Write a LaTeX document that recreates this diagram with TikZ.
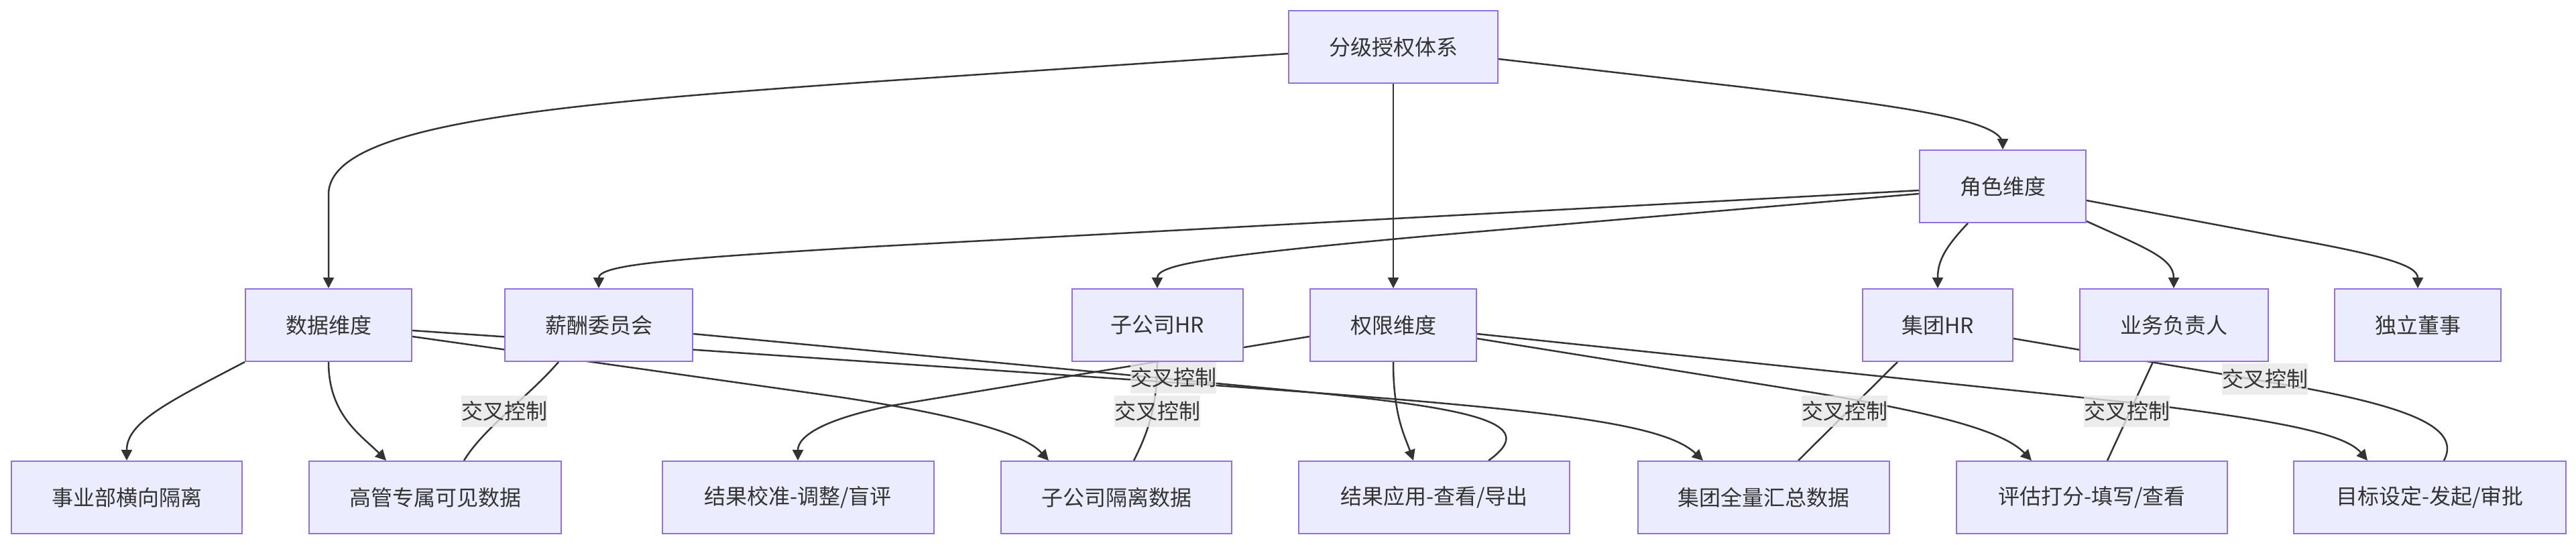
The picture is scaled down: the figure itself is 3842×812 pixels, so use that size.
\documentclass[tikz,border=0pt]{standalone}
\usepackage{fontspec}
\setmainfont{Noto Sans CJK SC}
\usetikzlibrary{arrows.meta,backgrounds}
\definecolor{nodefill}{HTML}{ECECFF}
\definecolor{nodeborder}{HTML}{9370DB}
\definecolor{edgecol}{HTML}{333333}
\definecolor{lblfill}{HTML}{E8E8E8}
\begin{document}
\begin{tikzpicture}[x=1pt,y=-1pt,
  box/.style={draw=nodeborder, line width=2pt, fill=nodefill, minimum height=108pt, inner sep=0pt, text=edgecol, font=\fontsize{32pt}{38pt}\selectfont},
  lbl/.style={fill=lblfill, fill opacity=0.8, text opacity=1, text=edgecol, inner sep=0pt, minimum height=47pt, font=\fontsize{32pt}{38pt}\selectfont},
  link/.style={draw=edgecol, line width=2.5pt},
  arr/.style={link, -{Triangle[length=16pt,width=16pt]}},
]
\useasboundingbox (0,0) rectangle (3842,812);
% nodes
\node[box, minimum width=312pt] (A) at (2078,70) {分级授权体系};
\node[box, minimum width=248pt] (B) at (490,485) {数据维度};
\node[box, minimum width=280pt] (D4) at (893,485) {薪酬委员会};
\node[box, minimum width=255pt] (D2) at (1726,485) {子公司HR};
\node[box, minimum width=248pt] (C) at (2078,485) {权限维度};
\node[box, minimum width=248pt] (D) at (2987,278) {角色维度};
\node[box, minimum width=224pt] (D1) at (2890,485) {集团HR};
\node[box, minimum width=281pt] (D3) at (3242,485) {业务负责人};
\node[box, minimum width=248pt] (D5) at (3606,485) {独立董事};
\node[box, minimum width=344pt] (B1) at (189,742) {事业部横向隔离};
\node[box, minimum width=376pt] (B2) at (649,742) {高管专属可见数据};
\node[box, minimum width=405pt] (C3) at (1190,742) {结果校准-调整/盲评};
\node[box, minimum width=344pt] (B3) at (1665,742) {子公司隔离数据};
\node[box, minimum width=404pt] (C4) at (2139,742) {结果应用-查看/导出};
\node[box, minimum width=375pt] (B4) at (2630,742) {集团全量汇总数据};
\node[box, minimum width=404pt] (C2) at (3120,742) {评估打分-填写/查看};
\node[box, minimum width=406pt] (C1) at (3624,742) {目标设定-发起/审批};
% labels
\node[lbl] (l1) at (752,613) {交叉控制};
\node[lbl] (l2) at (1750,563) {交叉控制};
\node[lbl] (l3) at (1726,613) {交叉控制};
\node[lbl] (l4) at (2751,613) {交叉控制};
\node[lbl] (l5) at (3172,613) {交叉控制};
\node[lbl] (l6) at (3378,565) {交叉控制};
\begin{pgfonlayer}{background}
\fill[white] (0,0) rectangle (3842,812);
% tree edges
\draw[arr] ([yshift=-10pt]A.west) -- (1300,122) .. controls (820,156) and (490,185) .. (490,290) -- (B.north);
\draw[arr] (A.south) -- (C.north);
\draw[arr] ([yshift=-18pt]A.east) -- (2600,130) .. controls (2850,160) and (2987,180) .. (2987,215) -- (D.north);
\draw[arr] ([yshift=-6pt]D.west) -- (1300,368) .. controls (1000,386) and (893,395) .. (D4.north);
\draw[arr] ([yshift=-11pt]D.west) -- (2130,352) .. controls (1800,382) and (1726,395) .. (D2.north);
\draw[arr] ([xshift=-52pt]D.south) .. controls (2900,370) and (2890,390) .. (D1.north);
\draw[arr] ([yshift=3pt]D.south east) .. controls (3200,370) and (3242,385) .. (D3.north);
\draw[arr] ([yshift=-21pt]D.east) -- (3400,353) .. controls (3550,380) and (3606,395) .. (D5.north);
\draw[arr] (B.south west) .. controls (250,600) and (189,630) .. (B1.north);
\draw[arr] (B.south) .. controls (490,620) and (540,650) .. ([xshift=-73pt]B2.north);
\draw[arr] ([yshift=-17pt]B.east) -- (1250,592) .. controls (1450,622) and (1530,650) .. ([xshift=-101pt]B3.north);
\draw[arr] ([yshift=-8pt]B.east) -- (1814,575) .. controls (2300,610) and (2480,630) .. ([xshift=-90pt]B4.north);
\draw[arr] ([yshift=-17pt]C.west) -- (1330,605) .. controls (1230,625) and (1190,650) .. (C3.north);
\draw[arr] (C.south) .. controls (2078,620) and (2095,650) .. ([xshift=-31pt]C4.north);
\draw[arr] ([yshift=-20pt]C.east) -- (2700,585) .. controls (2900,618) and (2990,645) .. ([xshift=-90pt]C2.north);
\draw[arr] ([yshift=-13pt]C.east) -- (3200,603) .. controls (3420,630) and (3500,650) .. ([xshift=-93pt]C1.north);
% cross-control links
\draw[link] ([xshift=-60pt]D4.south) .. controls (790,590) and (720,640) .. ([xshift=43pt]B2.north);
\draw[link] ([yshift=-13pt]D4.east) -- (1900,580) .. controls (2200,608) and (2300,630) .. ([xshift=81pt]C4.north);
\draw[link] (D2.south) .. controls (1726,600) and (1715,640) .. ([xshift=26pt]B3.north);
\draw[link] ([xshift=-60pt]D1.south) -- ([xshift=52pt]B4.north);
\draw[link] ([xshift=-31pt]D3.south) -- ([xshift=23pt]C2.north);
\draw[link] ([yshift=-20pt]D1.east) -- (3443,580) .. controls (3600,610) and (3670,640) .. ([xshift=21pt]C1.north);
\end{pgfonlayer}
\end{tikzpicture}
\end{document}
